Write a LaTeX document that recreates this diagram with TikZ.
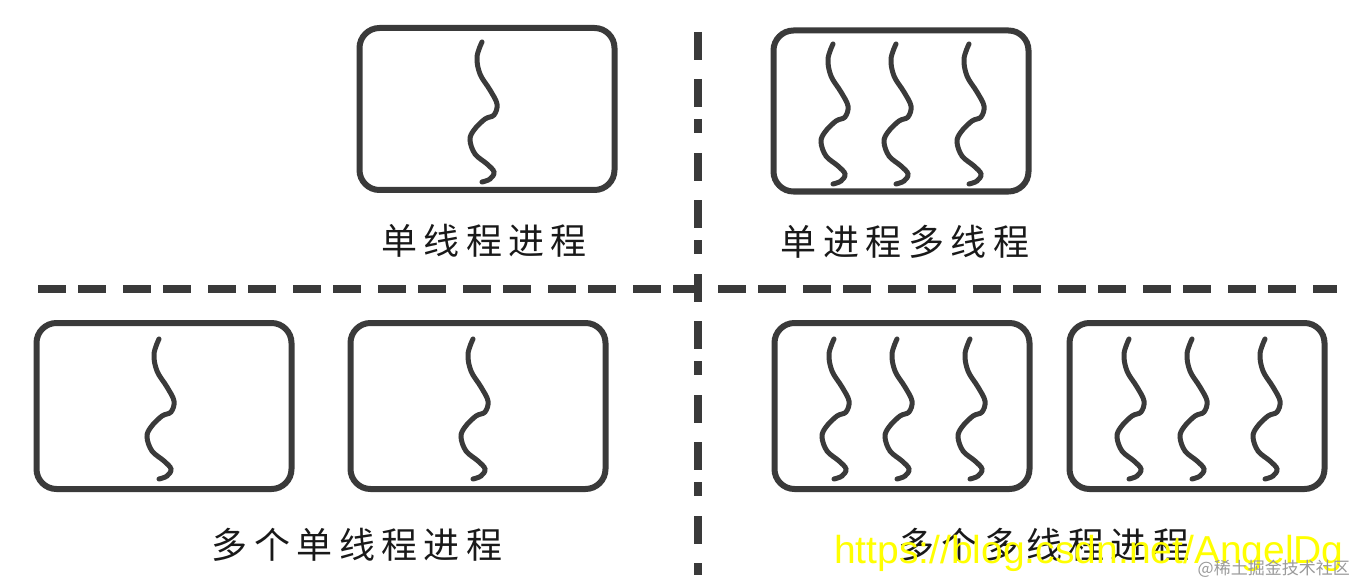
\documentclass[tikz,border=0pt]{standalone}
\usepackage{fontspec}
\newfontfamily\cjk[LetterSpace=18]{Noto Sans CJK SC}
\newfontfamily\cjksmall{Noto Sans CJK SC}
\newfontfamily\urlfont{Liberation Sans}
\definecolor{boxgray}{HTML}{3a3a3a}
\definecolor{wmyellow}{HTML}{FFFF00}
\definecolor{wmgray}{HTML}{9a9a9a}
\tikzset{
  procbox/.style={draw=boxgray, line width=6pt, rounded corners=20pt,
    minimum width=255pt, minimum height=#1, inner sep=0pt},
  procbox/.default=166pt,
  threadline/.style={draw=boxgray, line width=5pt, line cap=round},
  sepline/.style={draw=boxgray, line width=8pt},
  caption/.style={font=\cjk\fontsize{36}{40}\selectfont, text=black!90, inner sep=0pt},
  thread/.pic={
    \draw[threadline] plot[smooth, tension=0.6] coordinates {(0,-67) (-5,-52)
      (-2,-35) (8,-19) (15,-5) (12,6) (3,10) (-8,21) (-12,31) (-7,45) (5,55)
      (12,63) (8,70) (0,73)};
  }
}

\begin{document}
\begin{tikzpicture}[x=1pt, y=-1pt]
  \useasboundingbox (0,0) rectangle (1358,583);
  % Define nodes
  \node[procbox=162pt] (single) at (487,109) {};
  \node[procbox=161pt] (multi) at (901,111) {};
  \node[procbox] (singleA) at (164,406) {};
  \node[procbox] (singleB) at (478,406) {};
  \node[procbox] (multiA) at (902,406) {};
  \node[procbox] (multiB) at (1197,406) {};
  % Threads inside the processes
  \foreach \p in {single, singleA, singleB}
    \pic at ([xshift=-5pt]\p.center) {thread};
  \foreach \p in {multi, multiA, multiB}
    \foreach \dx in {-68,-5,68}
      \pic at ([xshift=\dx pt]\p.center) {thread};
  % Separators
  \draw[sepline, dash pattern=on 28pt off 12pt on 28pt off 17pt] (38,289) -- (702,289);
  \draw[sepline, dash pattern=on 28pt off 12pt on 28pt off 17pt] (718,289) -- (1337,289);
  \draw[sepline, dash pattern=on 28pt off 19pt on 28pt off 12pt on 14pt off 20pt] (698,32) -- (698,575);
  % Captions
  \node[caption] (singlecap) at (484,241) {单线程进程};
  \node[caption] (multicap) at (905,242) {单进程多线程};
  \node[caption] (singlescap) at (357,545) {多个单线程进程};
  \node[caption] (multiscap) at (1044,545) {多个多线程进程};
  % Watermarks
  \node[font=\urlfont\fontsize{39}{44}\selectfont, text=wmyellow, anchor=base west,
    inner sep=0pt] (url) at (834,563) {https://blog.csdn.net/AngelDg};
  \node[font=\cjksmall\fontsize{17}{20}\selectfont, text=wmgray, anchor=east,
    inner sep=0pt] (site) at (1350,569) {@稀土掘金技术社区};
\end{tikzpicture}
\end{document}
